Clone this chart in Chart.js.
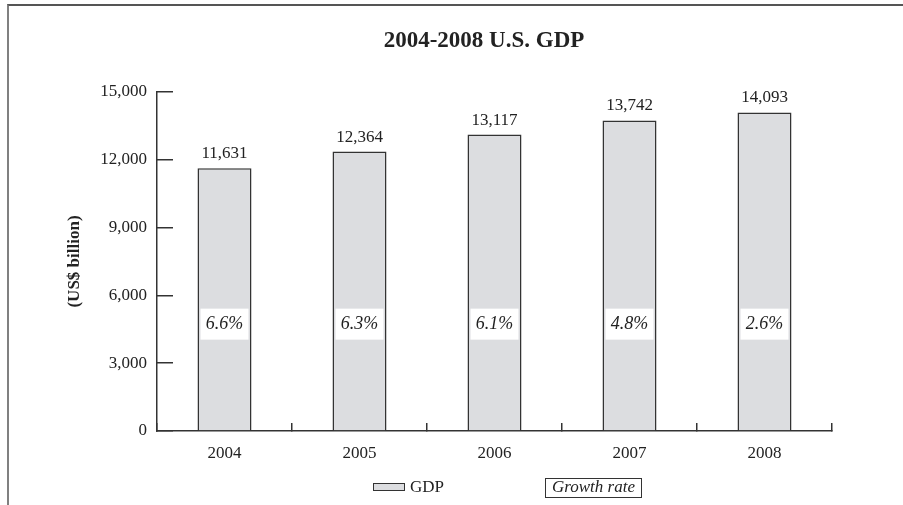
<!DOCTYPE html>
<html>
<head>
<meta charset="utf-8">
<script src="https://cdn.jsdelivr.net/npm/chart.js@4"></script>
<style>
  html, body { margin: 0; padding: 0; background: #fff; }
  #wrap { position: relative; width: 903px; height: 505px; }
  #frame {
    position: absolute; left: 7px; top: 4px; right: 0; bottom: 0;
    border-left: 2px solid #808080; border-top: 2px solid #555;
    pointer-events: none;
  }
</style>
</head>
<body>
<div id="wrap">
  <canvas id="chart" width="903" height="505"></canvas>
  <div id="frame"></div>
</div>
<script>
"use strict";

const years = ["2004", "2005", "2006", "2007", "2008"];
const gdp = [11631, 12364, 13117, 13742, 14093];
const growth = ["6.6%", "6.3%", "6.1%", "4.8%", "2.6%"];
const yTicks = [0, 3000, 6000, 9000, 12000, 15000];

// level (in US$ billion) where the growth rate boxes sit
const growthLevel = 4750;

const serif = "'Liberation Serif', 'Times New Roman', serif";
const ink = "#222";
const lineColor = "#333";

Chart.defaults.font.family = serif;
Chart.defaults.color = ink;

const labelPlugin = {
  id: "labels",
  afterDraw(chart) {
    const ctx = chart.ctx;
    const meta = chart.getDatasetMeta(0);
    const yScale = chart.scales.y;
    ctx.save();

    // title
    ctx.fillStyle = ink;
    ctx.font = "bold 23px " + serif;
    ctx.textAlign = "center";
    ctx.textBaseline = "middle";
    ctx.fillText("2004-2008 U.S. GDP", chart.chartArea.left + 327, 41);

    meta.data.forEach((bar, i) => {
      // value above bar
      ctx.font = "17px " + serif;
      ctx.textAlign = "center";
      ctx.textBaseline = "alphabetic";
      ctx.fillStyle = ink;
      ctx.fillText(gdp[i].toLocaleString("en-US"), bar.x, bar.y - 10);

      // growth rate box
      const cy = yScale.getPixelForValue(growthLevel);
      ctx.fillStyle = "#fff";
      ctx.fillRect(bar.x - 24, cy - 15, 48, 31);
      ctx.fillStyle = ink;
      ctx.font = "italic 18px " + serif;
      ctx.textBaseline = "middle";
      ctx.fillText(growth[i], bar.x, cy + 1);
    });

    // legend
    const ly = 487;
    ctx.fillStyle = "#dcdde0";
    ctx.fillRect(373, ly - 4, 32, 7);
    ctx.strokeStyle = lineColor;
    ctx.lineWidth = 1;
    ctx.strokeRect(373.5, ly - 3.5, 31, 7);
    ctx.fillStyle = ink;
    ctx.font = "17px " + serif;
    ctx.textAlign = "left";
    ctx.textBaseline = "middle";
    ctx.fillText("GDP", 410, ly + 1);

    ctx.strokeRect(545.5, 478.5, 96, 19);
    ctx.font = "italic 17px " + serif;
    ctx.textAlign = "center";
    ctx.fillText("Growth rate", 593.5, ly + 1);

    ctx.restore();
  },
};

new Chart(document.getElementById("chart"), {
  type: "bar",
  data: {
    labels: years,
    datasets: [
      {
        label: "GDP",
        data: gdp,
        backgroundColor: "#dcdde0",
        borderColor: lineColor,
        borderWidth: 1.5,
        categoryPercentage: 0.8,
        barPercentage: 0.5,
      },
    ],
  },
  options: {
    responsive: false,
    animation: false,
    layout: { padding: { left: 60, right: 71, top: 92, bottom: 0 } },
    plugins: {
      legend: { display: false },
      title: { display: false },
      tooltip: { enabled: false },
    },
    scales: {
      x: {
        afterFit(scale) { scale.height = 74; },
        grid: {
          offset: true,
          drawOnChartArea: false,
          tickLength: -8,
          color: lineColor,
          lineWidth: 1.5,
        },
        border: { color: lineColor, width: 1.5 },
        ticks: { padding: 20, font: { size: 17 }, color: ink },
      },
      y: {
        min: 0,
        max: 15000,
        afterFit(scale) { scale.width = 97; },
        afterBuildTicks(scale) {
          scale.ticks = yTicks.map((v) => ({ value: v }));
        },
        grid: {
          drawOnChartArea: false,
          tickLength: -16,
          color: lineColor,
          lineWidth: 1.5,
        },
        border: { color: lineColor, width: 1.5 },
        ticks: {
          padding: 26,
          font: { size: 17 },
          color: ink,
          callback: (v) => v.toLocaleString("en-US"),
        },
        title: {
          display: true,
          text: "(US$ billion)",
          font: { size: 17, weight: "bold" },
          color: ink,
          padding: { top: 4, bottom: 0 },
        },
      },
    },
  },
  plugins: [labelPlugin],
});
</script>
</body>
</html>
